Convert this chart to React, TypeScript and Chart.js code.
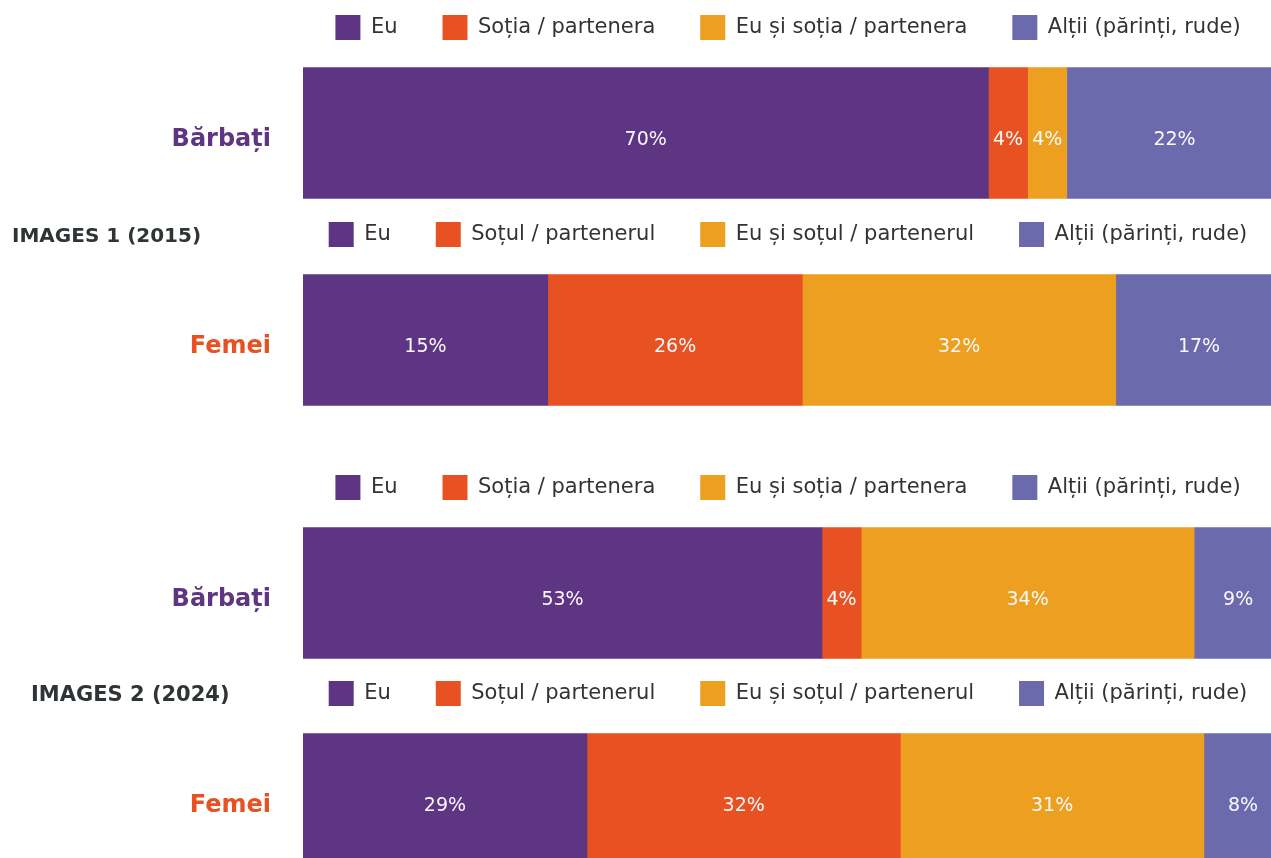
import React, { useEffect, useRef } from "react";
import { Chart, registerables } from "chart.js";

Chart.register(...registerables);

// ---------- data ----------
const SERIES_MEN = ["Eu", "Soția / partenera", "Eu și soția / partenera", "Alții (părinți, rude)"];
const SERIES_WOMEN = ["Eu", "Soțul / partenerul", "Eu și soțul / partenerul", "Alții (părinți, rude)"];
const ROW_MEN = ["Bărbați"];
const ROW_WOMEN = ["Femei"];
const GROUP_TITLES = ["IMAGES 1 (2015)", "IMAGES 2 (2024)"];

// bar widths (percent) as drawn
const MEN_2015 = [70, 4, 4, 22];
const WOMEN_2015 = [25, 26, 32, 17];
const MEN_2024 = [53, 4, 34, 9];
const WOMEN_2024 = [29, 32, 31, 8];

// value labels as printed on the bars
const MEN_2015_LABELS = ["70%", "4%", "4%", "22%"];
const WOMEN_2015_LABELS = ["15%", "26%", "32%", "17%"];
const MEN_2024_LABELS = ["53%", "4%", "34%", "9%"];
const WOMEN_2024_LABELS = ["29%", "32%", "31%", "8%"];

const COLORS = ["#5e3583", "#e85222", "#eda020", "#6b6aad"];
const MEN_COLOR = "#5e3583";
const WOMEN_COLOR = "#e85222";
const FONT = "'DejaVu Sans', sans-serif";

// ---------- layout ----------
const CANVAS_W = 1576;
const CANVAS_H = 246;
const X_MAX = 130;

const valueLabelPlugin = {
  id: "valueLabels",
  afterDatasetsDraw(chart: any) {
    const labels: string[][] = chart.options.plugins.valueLabels?.labels || [];
    const ctx = chart.ctx;
    ctx.save();
    ctx.fillStyle = "#fbf8fc";
    ctx.font = `19px ${FONT}`;
    ctx.textAlign = "center";
    ctx.textBaseline = "middle";
    chart.data.datasets.forEach((ds: any, i: number) => {
      const meta = chart.getDatasetMeta(i);
      meta.data.forEach((el: any, j: number) => {
        const p = el.getProps(["x", "y", "base"], true);
        const txt = labels[i] ? labels[i][j] : "";
        ctx.fillText(txt, (p.x + p.base) / 2, p.y + 7);
      });
    });
    ctx.restore();
  },
};

const groupTitlePlugin = {
  id: "groupTitle",
  afterDraw(chart: any) {
    const opts = chart.options.plugins.groupTitle;
    if (!opts || !opts.text) return;
    const hb = chart.legend && chart.legend.legendHitBoxes && chart.legend.legendHitBoxes[0];
    if (!hb) return;
    const ctx = chart.ctx;
    ctx.save();
    ctx.fillStyle = "#2f3436";
    ctx.font = `bold ${opts.size}px ${FONT}`;
    ctx.textAlign = "left";
    ctx.textBaseline = "middle";
    ctx.fillText(opts.text, opts.x, hb.top + hb.height / 2 + 2);
    ctx.restore();
  },
};

type PanelProps = {
  top: number;
  row: string[];
  rowColor: string;
  series: string[];
  values: number[];
  valueLabels: string[];
  title?: string;
  titleX?: number;
  titleSize?: number;
};

function Panel(props: PanelProps) {
  const ref = useRef<HTMLCanvasElement>(null);
  useEffect(() => {
    if (!ref.current) return;
    const chart = new Chart(ref.current, {
      type: "bar",
      data: {
        labels: props.row,
        datasets: props.series.map((name, i) => ({
          label: name,
          data: [props.values[i]],
          backgroundColor: COLORS[i],
          borderWidth: 0,
          barThickness: 131,
        })),
      },
      options: {
        responsive: false,
        animation: false,
        indexAxis: "y",
        layout: { padding: 0 },
        scales: {
          x: { stacked: true, min: 0, max: X_MAX, display: false },
          y: {
            stacked: true,
            grid: { display: false, drawTicks: false },
            border: { display: false },
            ticks: {
              padding: 32,
              labelOffset: 7,
              color: props.rowColor,
              font: { family: FONT, size: 24, weight: "bold" },
            },
            afterFit: (scale: any) => {
              scale.width = 303;
              scale.paddingTop = 0;
              scale.paddingBottom = 0;
            },
          },
        },
        plugins: {
          legend: {
            position: "top",
            align: "center",
            labels: {
              boxWidth: 25,
              boxHeight: 25,
              padding: 45,
              color: "#333333",
              font: { family: FONT, size: 21 },
            },
          },
          tooltip: { enabled: false },
          valueLabels: { labels: props.valueLabels.map((l) => [l]) },
          groupTitle: props.title
            ? { text: props.title, x: props.titleX, size: props.titleSize }
            : {},
        } as any,
      },
      plugins: [valueLabelPlugin, groupTitlePlugin],
    } as any);
    return () => chart.destroy();
  }, []);
  return (
    <canvas
      ref={ref}
      width={CANVAS_W}
      height={CANVAS_H}
      style={{ position: "absolute", left: 0, top: props.top, width: CANVAS_W, height: CANVAS_H }}
    />
  );
}

export default function App() {
  return (
    <div
      style={{
        position: "fixed",
        left: 0,
        top: 0,
        width: 1271,
        height: 858,
        overflow: "hidden",
        background: "#ffffff",
      }}
    >
      <Panel top={-30.5} row={ROW_MEN} rowColor={MEN_COLOR} series={SERIES_MEN} values={MEN_2015} valueLabels={MEN_2015_LABELS} />
      <Panel top={176.5} row={ROW_WOMEN} rowColor={WOMEN_COLOR} series={SERIES_WOMEN} values={WOMEN_2015} valueLabels={WOMEN_2015_LABELS} title={GROUP_TITLES[0]} titleX={12} titleSize={20} />
      <Panel top={429.5} row={ROW_MEN} rowColor={MEN_COLOR} series={SERIES_MEN} values={MEN_2024} valueLabels={MEN_2024_LABELS} />
      <Panel top={635.5} row={ROW_WOMEN} rowColor={WOMEN_COLOR} series={SERIES_WOMEN} values={WOMEN_2024} valueLabels={WOMEN_2024_LABELS} title={GROUP_TITLES[1]} titleX={31} titleSize={21} />
    </div>
  );
}
